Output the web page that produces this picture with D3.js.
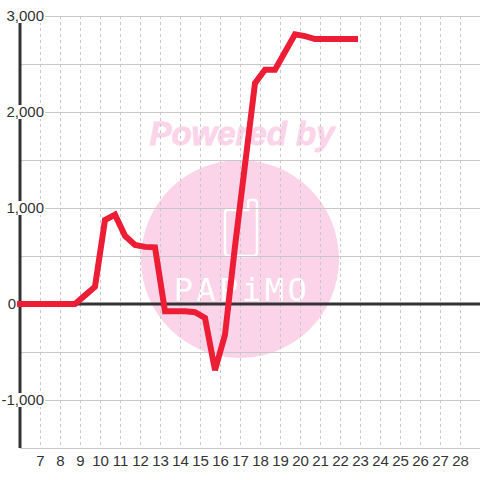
<!DOCTYPE html>
<html><head><meta charset="utf-8">
<script src="https://cdn.jsdelivr.net/npm/d3@7"></script>
<style>html,body{margin:0;padding:0;background:#fff}</style>
</head><body><svg id="c" width="480" height="480"></svg>
<script>
// ---- data ----
const xValues = [6, 8.75, 9.25, 9.75, 10.25, 10.75, 11.25, 11.75, 12.25, 12.75, 13.25, 13.75, 14.25, 14.75, 15.25, 15.75, 16.25, 16.75, 17.25, 17.75, 18.25, 18.75, 19.25, 19.75, 20.25, 20.75, 22.75];
const yValues = [0, 0, 90, 180, 875, 930, 710, 615, 595, 590, -75, -75, -75, -85, -145, -690, -320, 600, 1450, 2300, 2440, 2440, 2625, 2810, 2790, 2760, 2760];
const xTickValues = [7,8,9,10,11,12,13,14,15,16,17,18,19,20,21,22,23,24,25,26,27,28];
const xTickLabels = ["7","8","9","10","11","12","13","14","15","16","17","18","19","20","21","22","23","24","25","26","27","28"];
const yTickValues = [3000, 2000, 1000, 0, -1000];
const yTickLabels = ["3,000", "2,000", "1,000", "0", "-1,000"];
const yGridValues = [3000, 2500, 2000, 1500, 1000, 500, -500, -1000, -1500];

// ---- layout ----
const W = 480, H = 480;
const mLeft = 20, mRight = 480, mTop = 16, mBottom = 448;
const x = d3.scaleLinear().domain([6, 29]).range([mLeft, mRight]);
const y = d3.scaleLinear().domain([3000, -1500]).range([mTop, mBottom]);
const svg = d3.select("#c");
const FONT = "'Liberation Sans', Arial, sans-serif";

svg.append("rect").attr("width", W).attr("height", H).attr("fill", "#fff");

// ---- watermark ----
const wm = svg.append("g");
const pink = "#fbd4e9";
wm.append("circle").attr("cx", 240).attr("cy", 259).attr("r", 99).attr("fill", pink);
wm.append("text").attr("x", 242).attr("y", 145).attr("text-anchor", "middle")
  .attr("font-family", FONT).attr("font-size", 33).attr("font-weight", "bold")
  .attr("font-style", "italic").attr("fill", pink)
  .attr("stroke", pink).attr("stroke-width", 0.8).text("Powered by");
wm.append("path")
  .attr("d", "M227,210 Q225,210 225,213 L225,252 Q225,256 229,256 L253,256 Q257,256 257,252 L257,203 Q257,200 254,200 L251,200 Q248,200 248,203 L248,210 Z")
  .attr("fill", "none").attr("stroke", "#fff").attr("stroke-width", 2.5);
wm.append("text").attr("x", 242).attr("y", 301).attr("text-anchor", "middle")
  .attr("font-family", "'DejaVu Sans Mono', monospace").attr("font-size", 32)
  .attr("letter-spacing", 3.5).attr("fill", "#fff").text("PAPiMO");

// ---- grid ----
const grid = svg.append("g");
grid.selectAll("line.v").data(xTickValues).join("line")
  .attr("x1", d => x(d)).attr("x2", d => x(d))
  .attr("y1", mTop).attr("y2", mBottom)
  .attr("stroke", "#c8c8c8").attr("stroke-width", 1).attr("stroke-dasharray", "3,3")
  .attr("shape-rendering", "crispEdges");
grid.selectAll("line.h").data(yGridValues).join("line")
  .attr("x1", mLeft).attr("x2", mRight)
  .attr("y1", d => y(d)).attr("y2", d => y(d))
  .attr("stroke", "#c8c8c8").attr("stroke-width", 1)
  .attr("shape-rendering", "crispEdges");

// ---- axes lines ----
svg.append("line").attr("x1", mLeft).attr("x2", mLeft).attr("y1", mTop).attr("y2", mBottom)
  .attr("stroke", "#333").attr("stroke-width", 3);
svg.append("line").attr("x1", mLeft).attr("x2", mRight).attr("y1", y(0)).attr("y2", y(0))
  .attr("stroke", "#333").attr("stroke-width", 3);

// ---- y labels with white boxes ----
const yl = svg.append("g");
yTickValues.forEach((v, i) => {
  const g = yl.append("g").attr("transform", `translate(0,${y(v)})`);
  const isZero = v === 0;
  if (!isZero) {
    g.append("rect").attr("x", 2).attr("y", -7).attr("width", 43).attr("height", 14).attr("fill", "#fff");
  } else {
    g.append("rect").attr("x", 6).attr("y", -7).attr("width", 11).attr("height", 14).attr("fill", "#fff");
  }
  g.append("text").attr("x", isZero ? 16 : 44).attr("y", 0).attr("dy", "0.36em")
    .attr("text-anchor", "end").attr("font-family", FONT).attr("font-size", 15)
    .attr("fill", "#333").text(yTickLabels[i]);
});

// ---- x axis labels ----
const xAxis = d3.axisBottom(x).tickValues(xTickValues).tickFormat((d, i) => xTickLabels[i]).tickSize(0).tickPadding(0);
const xg = svg.append("g").attr("transform", `translate(0,${mBottom})`).call(xAxis);
xg.select(".domain").remove();
xg.selectAll("text").attr("font-family", FONT).attr("font-size", 15).attr("fill", "#333")
  .attr("y", 13).attr("dy", "0.36em");

// ---- data line ----
const pts = xValues.map((v, i) => [v, yValues[i]]);
const line = d3.line().x(d => x(d[0])).y(d => y(d[1]));
svg.append("path").datum(pts).attr("d", line)
  .attr("fill", "none").attr("stroke", "#ee1d36").attr("stroke-width", 6)
  .attr("stroke-linecap", "square").attr("stroke-linejoin", "miter");
</script></body></html>
